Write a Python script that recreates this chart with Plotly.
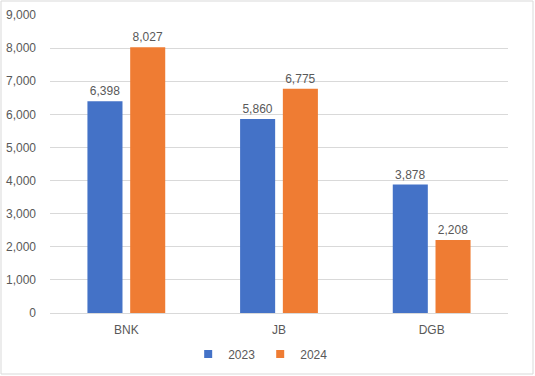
import plotly.graph_objects as go

categories = ["BNK", "JB", "DGB"]
series_names = ["2023", "2024"]
values_2023 = [6398, 5860, 3878]
values_2024 = [8027, 6775, 2208]
y_ticks = [0, 1000, 2000, 3000, 4000, 5000, 6000, 7000, 8000, 9000]

colors = ["#4472C7", "#EF7C33"]
font_color = "#595959"
font_family = "Liberation Sans, Arial, sans-serif"

fig = go.Figure()
for name, vals, col in zip(series_names, [values_2023, values_2024], colors):
    fig.add_trace(go.Bar(
        x=categories, y=vals, name=name,
        marker=dict(color=col, line=dict(width=0)),
        text=[f"{v:,}" for v in vals], textposition="outside",
        textfont=dict(size=12, color=font_color, family=font_family),
        cliponaxis=False, showlegend=False,
    ))
    # compact legend entry with small square marker
    fig.add_trace(go.Scatter(
        x=[None], y=[None], mode="markers", name=name,
        marker=dict(symbol="square", size=8, color=col), showlegend=True,
    ))

# chart border around the whole figure
x0 = (1 - 50) / 458
x1 = (533 - 50) / 458
y1 = (313 - 1) / 298
y0 = (313 - 374) / 298
fig.add_shape(type="rect", xref="paper", yref="paper", x0=x0, x1=x1, y0=y0, y1=y1,
              line=dict(color="#D9D9D9", width=1), fillcolor="rgba(0,0,0,0)", layer="below")

fig.update_layout(
    width=535, height=376,
    margin=dict(l=50, r=27, t=15, b=63, autoexpand=False),
    paper_bgcolor="white", plot_bgcolor="white",
    barmode="group", bargap=0.44, bargroupgap=0.18,
    font=dict(family=font_family, size=12, color=font_color),
    showlegend=True,
    legend=dict(orientation="h", x=0.46, xanchor="center", y=(313 - 354) / 298, yanchor="middle",
                font=dict(size=12, color=font_color), traceorder="normal",
                itemwidth=30, tracegroupgap=0),
    xaxis=dict(showgrid=False, showline=True, linecolor="#D9D9D9", linewidth=1, ticks="",
               automargin=False, ticklabelstandoff=6, tickfont=dict(size=12, color=font_color)),
    yaxis=dict(range=[0, 9000], tickvals=y_ticks, tickformat=",", showgrid=True,
               gridcolor="#D9D9D9", gridwidth=1, zeroline=False, showline=False, ticks="",
               automargin=False, ticklabelstandoff=13, tickfont=dict(size=12, color=font_color)),
)

fig.write_html("out.html", config={"displayModeBar": False},
               post_script="document.body.style.margin='0';document.body.style.overflow='hidden';")
